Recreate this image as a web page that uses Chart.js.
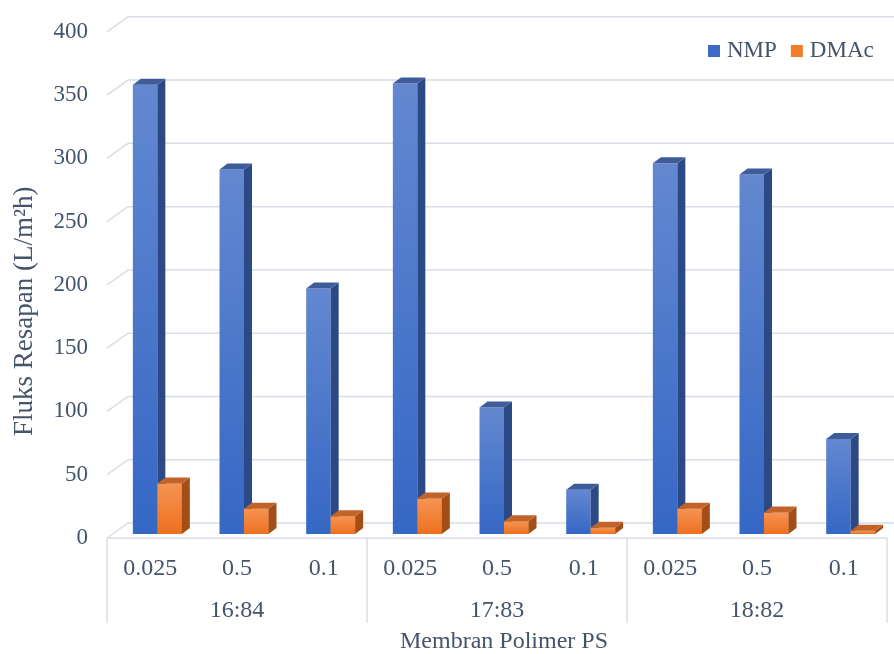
<!DOCTYPE html>
<html>
<head>
<meta charset="utf-8">
<script src="https://cdn.jsdelivr.net/npm/chart.js@4.4.1/dist/chart.umd.min.js"></script>
<style>
  html, body { margin: 0; padding: 0; background: #fff; }
  #wrap { width: 894px; height: 654px; position: relative; }
</style>
</head>
<body>
<div id="wrap"><canvas id="fluxChart"></canvas></div>
<script>
// data
const categories = ['0.025', '0.5', '0.1', '0.025', '0.5', '0.1', '0.025', '0.5', '0.1'];
const groups = ['16:84', '17:83', '18:82'];
const nmpValues = [355, 288, 194, 356, 100, 35, 293, 284, 75];
const dmacValues = [40, 20, 14, 28, 10, 5, 20, 17, 2.5];
const yMin = 0, yMax = 400, yStep = 50;

const textColor = '#44546A';
const gridColor = '#d9dde5';
const serif = '"Liberation Serif", "Times New Roman", serif';

// face colours for the fake 3d look
const faces = {
    NMP:  { light: '#6388d0', dark: '#3567c5', side: '#2b4985', top: '#3f5c9a', swatch: '#3b6bc4' },
    DMAc: { light: '#f59452', dark: '#ee7020', side: '#a24e16', top: '#c2642a', swatch: '#f07c2c' }
};
const DX = 8, DY = 6, SHIFT = 7;

function frontFill(name) {
    return (c) => {
        const chart = c.chart;
        const f = faces[name];
        if (!chart.chartArea || c.raw == null) return f.dark;
        const y = chart.scales.y;
        const g = chart.ctx.createLinearGradient(0, y.getPixelForValue(c.raw), 0, y.getPixelForValue(0));
        g.addColorStop(0, f.light);
        g.addColorStop(1, f.dark);
        return g;
    };
}

const box3d = {
    id: 'box3d',
    beforeDatasetsDraw(chart) {
        const { ctx, chartArea: a, scales: { y } } = chart;
        ctx.save();
        ctx.strokeStyle = gridColor;
        ctx.lineWidth = 1.5;
        y.ticks.forEach(t => {
            const py = y.getPixelForValue(t.value);
            ctx.beginPath();
            ctx.moveTo(a.left - SHIFT, py + 4);
            ctx.lineTo(a.left + 14, py - 11);
            ctx.lineTo(chart.width, py - 11);
            ctx.stroke();
        });
        // front edge of the floor
        const p0 = y.getPixelForValue(0);
        ctx.beginPath();
        ctx.moveTo(a.left - SHIFT, p0 + 4);
        ctx.lineTo(a.right - SHIFT, p0 + 4);
        ctx.stroke();
        ctx.restore();
    },
    afterDatasetsDraw(chart) {
        const ctx = chart.ctx;
        ctx.save();
        chart.data.datasets.forEach((ds, i) => {
            const f = faces[ds.label];
            chart.getDatasetMeta(i).data.forEach(el => {
                // later series sit over the side of the earlier one
                if (i > 0) el.draw(ctx);
                const { x, y, base, width } = el.getProps(['x', 'y', 'base', 'width'], true);
                const l = x - width / 2, r = x + width / 2;
                ctx.fillStyle = f.side;
                ctx.beginPath();
                ctx.moveTo(r, y);
                ctx.lineTo(r + DX, y - DY);
                ctx.lineTo(r + DX, base - DY);
                ctx.lineTo(r, base);
                ctx.closePath();
                ctx.fill();
                ctx.fillStyle = f.top;
                ctx.beginPath();
                ctx.moveTo(l, y);
                ctx.lineTo(r, y);
                ctx.lineTo(r + DX, y - DY);
                ctx.lineTo(l + DX, y - DY);
                ctx.closePath();
                ctx.fill();
            });
        });
        ctx.restore();
    },
    afterDraw(chart) {
        const { ctx, scales: { x, y } } = chart;
        const p0 = y.getPixelForValue(0) + 4;
        const step = x.width / categories.length;
        const per = categories.length / groups.length;
        ctx.save();
        ctx.strokeStyle = gridColor;
        ctx.lineWidth = 1.5;
        for (let g = 0; g <= groups.length; g++) {
            const bx = x.left + g * per * step - SHIFT;
            ctx.beginPath();
            ctx.moveTo(bx, p0);
            ctx.lineTo(bx, 623);
            ctx.stroke();
        }
        // legend
        ctx.font = '23px ' + serif;
        ctx.textBaseline = 'middle';
        let lx = 708;
        chart.data.datasets.forEach(ds => {
            ctx.fillStyle = faces[ds.label].swatch;
            ctx.fillRect(lx, 45, 12, 12);
            ctx.fillStyle = textColor;
            ctx.fillText(ds.label, lx + 19, 51);
            lx += 19 + ctx.measureText(ds.label).width + 14;
        });
        ctx.restore();
    }
};

new Chart(document.getElementById('fluxChart'), {
    type: 'bar',
    data: {
        labels: categories,
        datasets: [
            { label: 'NMP', data: nmpValues, backgroundColor: frontFill('NMP') },
            { label: 'DMAc', data: dmacValues, backgroundColor: frontFill('DMAc') }
        ]
    },
    options: {
        responsive: true,
        maintainAspectRatio: false,
        animation: false,
        layout: { padding: 0 },
        datasets: { bar: { categoryPercentage: 0.565, barPercentage: 1 } },
        scales: {
            x: {
                grid: { display: false },
                border: { display: false },
                ticks: { color: textColor, font: { family: serif, size: 24 }, padding: 12, labelOffset: -SHIFT, maxRotation: 0, autoSkip: false },
                afterFit: s => { s.height = 50; }
            },
            x2: {
                type: 'category',
                labels: groups,
                position: 'bottom',
                offset: true,
                grid: { display: false },
                border: { display: false },
                ticks: { color: textColor, font: { family: serif, size: 24 }, padding: 4, labelOffset: -SHIFT, maxRotation: 0, autoSkip: false },
                title: { display: true, text: 'Membran Polimer PS', color: textColor, font: { family: serif, size: 24 }, padding: { top: 0, bottom: -2 } },
                afterFit: s => { s.height = 70; }
            },
            y: {
                min: yMin,
                max: yMax,
                grid: { display: false, drawTicks: true, tickLength: 12 },
                border: { display: false },
                ticks: { stepSize: yStep, color: textColor, font: { family: serif, size: 23 }, padding: 14, labelOffset: 4 },
                title: { display: true, text: 'Fluks Resapan (L/m\u00b2h)' + '\u00a0'.repeat(9), color: textColor, font: { family: serif, size: 27 }, padding: { top: 9, bottom: 0 } },
                afterFit: s => { s.width = 114; }
            }
        },
        plugins: {
            legend: { display: false },
            tooltip: { mode: 'index', intersect: false }
        }
    },
    plugins: [box3d]
});
</script>
</body>
</html>
